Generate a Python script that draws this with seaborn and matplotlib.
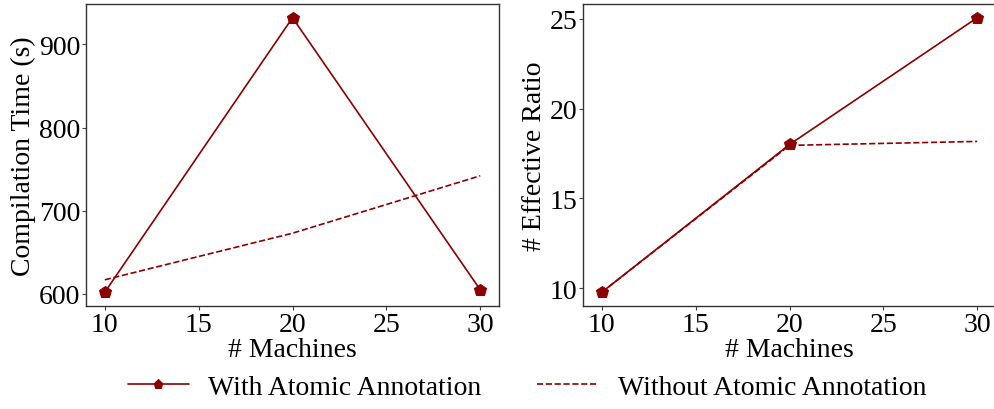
import matplotlib
matplotlib.use("Agg")
import matplotlib.pyplot as plt
import seaborn as sns
import pandas as pd

# ── data ────────────────────────────────────────────
machines = [10, 20, 30]
compile_with = [602, 932, 605]
compile_without = [617, 673, 742]
ratio_with = [9.78, 18.0, 25.05]
ratio_without = [9.78, 17.95, 18.17]

series_labels = ["With Atomic Annotation", "Without Atomic Annotation"]
color = "#8B0000"

sns.set_theme(style="white")
plt.rcParams["font.family"] = ["Liberation Serif", "DejaVu Serif"]
plt.rcParams["text.color"] = "black"
plt.rcParams["axes.labelcolor"] = "black"
plt.rcParams["xtick.color"] = "black"
plt.rcParams["ytick.color"] = "black"

FS = 20

fig = plt.figure(figsize=(9.94, 4.10), dpi=100)
ax1 = fig.add_axes([86 / 994, 1 - 307 / 410, 413 / 994, 302 / 410])
ax2 = fig.add_axes([583 / 994, 1 - 307 / 410, 413 / 994, 302 / 410])

panels = [
    (ax1, compile_with, compile_without, "Compilation Time (s)", [600, 700, 800, 900]),
    (ax2, ratio_with, ratio_without, "# Effective Ratio", [10, 15, 20, 25]),
]

for ax, y_with, y_without, ylabel, yticks in panels:
    df = pd.DataFrame({"x": machines, "with": y_with, "without": y_without})
    sns.lineplot(data=df, x="x", y="with", ax=ax, color=color, marker="p",
                 markersize=9, markeredgecolor=color, linewidth=1.2,
                 label=series_labels[0], legend=False)
    sns.lineplot(data=df, x="x", y="without", ax=ax, color=color,
                 linestyle="--", linewidth=1.2,
                 label=series_labels[1], legend=False)
    ax.set_xlabel("# Machines", fontsize=FS, labelpad=0)
    ax.set_ylabel(ylabel, fontsize=FS, labelpad=2)
    ax.set_xticks([10, 15, 20, 25, 30])
    ax.set_yticks(yticks)
    ax.tick_params(axis="both", labelsize=FS, length=3, width=0.8,
                   color="#444444", bottom=True, left=True, pad=1)
    for sp in ax.spines.values():
        sp.set_color("#333333")
        sp.set_linewidth(1.0)

handles, labels = ax1.get_legend_handles_labels()
fig.legend(handles, labels, loc="center", bbox_to_anchor=(527 / 994, 1 - 388 / 410),
           ncol=2, frameon=False, fontsize=FS, columnspacing=2.0,
           handlelength=2.2, handletextpad=0.7, markerscale=0.75)

fig.savefig("out.png", dpi=100)
